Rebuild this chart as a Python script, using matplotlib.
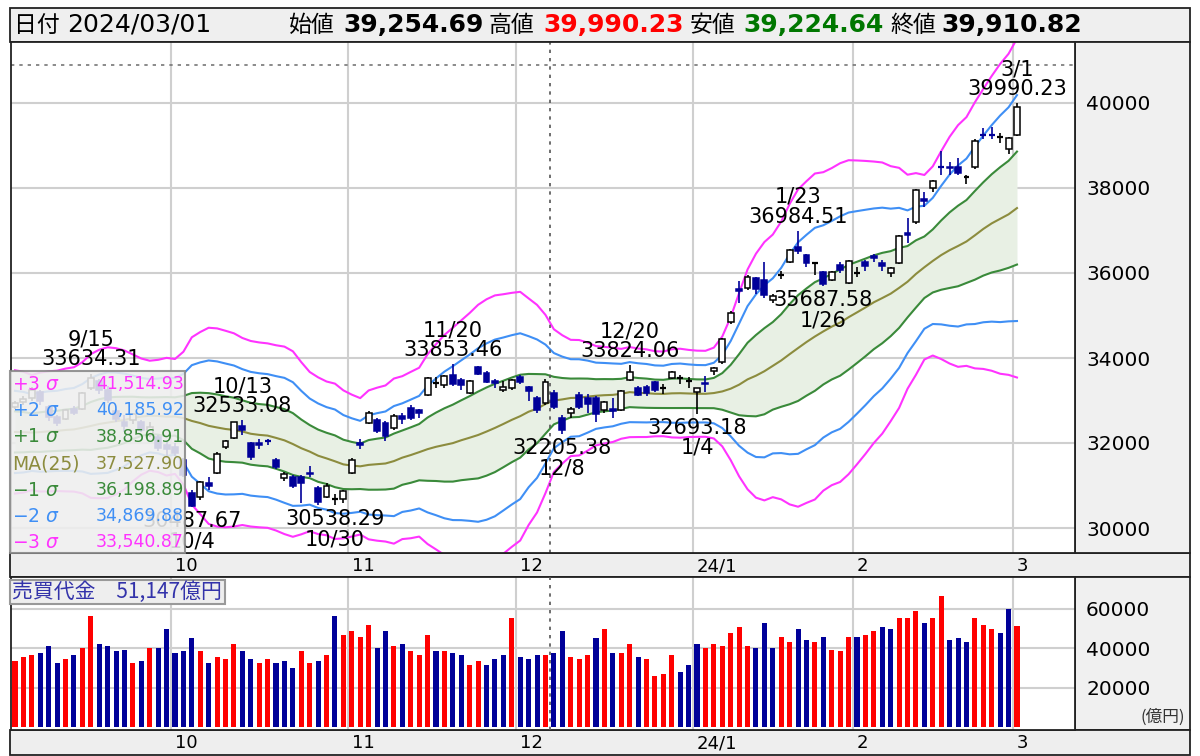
import numpy as np
import pandas as pd
import matplotlib
matplotlib.use('Agg')
import matplotlib.pyplot as plt
from matplotlib.patches import Rectangle
import matplotlib.transforms as mtransforms

plt.rcParams['font.family'] = ['DejaVu Sans', 'Noto Sans CJK JP']

# ---------------- data ----------------
sep_days = [4, 5, 6, 7, 8, 11, 12, 13, 14, 15, 19, 20, 21, 22, 25, 26, 27, 28, 29]
oct_days = [2, 3, 4, 5, 6, 10, 11, 12, 13, 16, 17, 18, 19, 20, 23, 24, 25, 26, 27, 30, 31]
nov_days = [1, 2, 6, 7, 8, 9, 10, 13, 14, 15, 16, 17, 20, 21, 22, 24, 27, 28, 29, 30]
dec_days = [1, 4, 5, 6, 7, 8, 11, 12, 13, 14, 15, 18, 19, 20, 21, 22, 25, 26, 27, 28, 29]
jan_days = [4, 5, 9, 10, 11, 12, 15, 16, 17, 18, 19, 22, 23, 24, 25, 26, 29, 30, 31]
feb_days = [1, 2, 5, 6, 7, 8, 9, 13, 14, 15, 16, 19, 20, 21, 22, 26, 27, 28, 29]
mar_days = [1]
month_labels = ["10", "11", "12", "24/1", "2", "3"]

# closes before the visible range (needed for the 25-day bands)
prior_close = [33172, 33476, 32707, 32159, 32193, 32254, 32377, 32204, 32474, 32059,
               32239, 31766, 31627, 31451, 31566, 31856, 32011, 32288, 31625, 32170,
               32227, 32333, 32619, 32711]

open_ = [32850, 32960, 33050, 33200, 32850, 32600, 32560, 32800, 32800, 33300,
         33450, 33250, 32750, 32500, 32550, 32500, 32200, 32150, 31950,
         31900, 31600, 30820, 30730, 31050, 31300, 31900, 32120, 32400, 32000,
         32000, 32050, 31600, 31180, 31200, 31200, 31300, 30940, 30730, 30690, 30690,
         31300, 32000, 32470, 32540, 32470, 32350, 32640, 32820, 32770, 33130,
         33420, 33365, 33600, 33480, 33180, 33780, 33650, 33450, 33250, 33300,
         33550, 33320, 33060, 32940, 33180, 32590, 32710, 33130, 33060, 33060,
         32780, 32800, 32780, 33480, 33300, 33310, 33430, 33300, 33530, 33530, 33460,
         33190, 33400, 33700, 33910, 34850, 35620, 35650, 35880, 35835, 35370,
         35950, 36260, 36610, 36420, 36230, 36020, 35840, 36190, 35770,
         36000, 36260, 36400, 36235, 36000, 36240, 36950, 37200, 37750, 38000,
         38500, 38500, 38494, 38250, 38500, 39250, 39250, 39200, 38920,
         39254.69]
high = [32990, 33100, 33322, 33250, 32900, 32660, 32800, 32860, 33200, 33634.31,
        33500, 33330, 32800, 32650, 32700, 32550, 32500, 32200, 32050,
        32000, 31650, 30900, 31100, 31200, 31780, 32070, 32500, 32533.08, 32020,
        32100, 32100, 31650, 31320, 31250, 31250, 31460, 30990, 31050, 30800, 30900,
        31650, 32100, 32760, 32580, 32520, 32680, 32700, 32900, 32800, 33550,
        33550, 33600, 33853.46, 33520, 33480, 33820, 33700, 33500, 33450, 33500,
        33600, 33350, 33100, 33500, 33250, 32650, 32850, 33200, 33150, 33100,
        33000, 33050, 33250, 33824.06, 33350, 33360, 33450, 33380, 33700, 33600, 33550,
        33300, 33570, 33800, 34480, 35100, 35800, 35950, 35900, 36259, 35500,
        36050, 36560, 36984.51, 36450, 36260, 36050, 36050, 36250, 36300,
        36150, 36300, 36450, 36300, 36150, 36900, 37287, 37980, 37900, 38180,
        38865, 38600, 38700, 38300, 39156, 39400, 39426, 39300, 39200,
        39990.23]
low = [32800, 32900, 32990, 32900, 32510, 32400, 32540, 32650, 32780, 33250,
       33150, 32950, 32500, 32250, 32450, 32250, 32150, 31820, 31700,
       31700, 31200, 30487.67, 30650, 30900, 31280, 31850, 32100, 32200, 31600,
       31850, 31950, 31400, 31100, 30950, 30590, 31200, 30550, 30700, 30538.29, 30600,
       31280, 31850, 32450, 32240, 32050, 32300, 32450, 32550, 32600, 33100,
       33300, 33300, 33350, 33250, 33150, 33600, 33420, 33300, 33200, 33250,
       33400, 33000, 32700, 32900, 32800, 32205.38, 32600, 32800, 32700, 32500,
       32700, 32600, 32750, 33450, 33100, 33100, 33200, 33150, 33500, 33400, 33300,
       32693.18, 33200, 33600, 33850, 34800, 35300, 35600, 35500, 35400, 35300,
       35850, 36240, 36450, 36150, 35950, 35687.58, 35800, 36000, 35750,
       35900, 36050, 36250, 36050, 35900, 36200, 36700, 37150, 37550, 37900,
       38300, 38300, 38300, 38100, 38450, 39150, 39150, 39050, 38800,
       39224.64]
close = [32939, 33036, 33241, 32991, 32606, 32467, 32776, 32706, 33168, 33533,
         33242, 33023, 32571, 32402, 32678, 32315, 32372, 31872, 31857,
         31759, 31237, 30526, 31075, 30994, 31746, 32040, 32494, 32315, 31659,
         31951, 32042, 31431, 31259, 30999, 31062, 31269, 30601, 30991, 30697, 30859,
         31601, 31950, 32708, 32272, 32166, 32646, 32568, 32585, 32695, 33519,
         33424, 33585, 33388, 33354, 33452, 33625, 33447, 33408, 33321, 33486,
         33431, 33231, 32776, 33445, 32858, 32307, 32791, 32843, 32926, 32686,
         32970, 32758, 33219, 33675, 33141, 33169, 33254, 33305, 33681, 33539, 33464,
         33288, 33377, 33763, 34441, 35049, 35577, 35901, 35619, 35477, 35466,
         35963, 36546, 36517, 36226, 36236.47, 35751.20, 36026.94, 36065.86, 36286.71,
         36011.46, 36158.02, 36354.16, 36160.66, 36119.92, 36863.28, 36897.42, 37963.97,
         37703.32, 38157.94, 38486.46, 38470.38, 38363.61, 38262.16, 39098.55,
         39233.71, 39239.52, 39208.77, 39166.19,
         39910.82]
# trading value (100 million yen)
turnover = [33700, 35400, 36600, 37500, 41000, 32700, 34600, 36600, 40200, 56400,
            42200, 41200, 38500, 39300, 32700, 33700, 40200, 40200, 49800,
            37500, 38500, 45100, 38500, 32700, 35400, 34600, 42200, 38500, 34600,
            32700, 34600, 32700, 33700, 29800, 38500, 32700, 33700, 36600, 56400, 46900,
            48800, 45900, 51700, 40300, 48800, 41200, 42200, 38500, 36600, 46900,
            38500, 38500, 37500, 36600, 31700, 33700, 31700, 34600, 36600, 55400,
            35600, 34600, 36600, 36600, 37500, 48800, 35600, 34600, 36600, 45100,
            49800, 37500, 37500, 42200, 35600, 34600, 26100, 26900, 36600, 28000, 31700,
            42200, 40200, 42200, 41200, 48000, 50700, 41200, 40200, 52700, 40200,
            45900, 43100, 49800, 44100, 43100, 45900, 39300, 38500, 45900,
            45900, 46900, 48800, 50700, 49800, 55400, 55400, 59100, 52700, 55400,
            66800, 44100, 45100, 43100, 55400, 51700, 49800, 48000, 60000,
            51147]
high_marks = ["9/15", "10/13", "11/20", "12/20", "1/23", "3/1"]
low_marks = ["10/4", "10/30", "12/8", "1/4", "1/26"]
cursor_price = 40890
cursor_day = "12/6"

band_labels = ["+3", "+2", "+1", "MA(25)", "\u22121", "\u22122", "\u22123"]

# ---------------- derived ----------------
labels = ([f"9/{d}" for d in sep_days] + [f"10/{d}" for d in oct_days] +
          [f"11/{d}" for d in nov_days] + [f"12/{d}" for d in dec_days] +
          [f"1/{d}" for d in jan_days] + [f"2/{d}" for d in feb_days] +
          [f"3/{d}" for d in mar_days])
n = len(labels)
x = np.arange(n)
counts = [len(sep_days), len(oct_days), len(nov_days), len(dec_days), len(jan_days), len(feb_days)]
month_start = np.cumsum(counts)
month_bounds = month_start - 0.5

allc = pd.Series(prior_close + close, dtype=float)
ma = allc.rolling(25).mean().values[len(prior_close):]
sd = allc.rolling(25).std(ddof=0).values[len(prior_close):]
prev_close = np.array(allc.values[len(prior_close) - 1:-1])

O = np.array(open_, float); H = np.array(high, float)
L = np.array(low, float); C = np.array(close, float)

NAVY = '#000099'
RED = '#ff0000'
C3 = '#ff33ff'; C2 = '#3f8ff5'; C1 = '#3a8a3a'; CMA = '#8c8c3e'
band_cols = [C3, C2, C1, CMA, C1, C2, C3]

# ---------------- figure ----------------
W, Hh = 1200, 756
fig = plt.figure(figsize=(12, 7.56), dpi=100)

def rect(x0, y0, x1, y1):
    return [x0 / W, 1 - y1 / Hh, (x1 - x0) / W, (y1 - y0) / Hh]

bg = fig.add_axes([0, 0, 1, 1], zorder=0)
bg.set_xlim(0, W); bg.set_ylim(Hh, 0); bg.axis('off')
for (a, b, c, d, fc) in [(10, 8, 1190, 42, '#efefef'), (10, 553, 1190, 577, '#eeeeee'),
                         (1075, 42, 1190, 553, '#f0f0f0'), (1075, 577, 1190, 730, '#f0f0f0'),
                         (10, 730, 1190, 755, '#eeeeee')]:
    bg.add_patch(Rectangle((a, b), c - a, d - b, facecolor=fc, edgecolor='#222222', lw=1.3))

# header
hy = 25
bg.text(14, hy, "日付", fontsize=16.5, va='center', ha='left', family=['Noto Sans CJK JP'])
bg.text(67, hy, "2024/03/01", fontsize=18, va='center', ha='left')
items = [(289, "始値", 343, f"{O[-1]:,.2f}", 'black'),
         (489, "高値", 543, f"{H[-1]:,.2f}", '#ff0000'),
         (690, "安値", 743, f"{L[-1]:,.2f}", '#007700'),
         (890, "終値", 941, f"{C[-1]:,.2f}", 'black')]
for (xl, lab, xv, val, col) in items:
    bg.text(xl, hy, lab, fontsize=16.5, va='center', ha='left', family=['Noto Sans CJK JP'])
    bg.text(xv, hy, val, fontsize=18, va='center', ha='left', fontweight='bold', color=col)

# ---------------- price panel ----------------
ax = fig.add_axes(rect(11, 42, 1075, 553), zorder=1)
ax.set_facecolor('white')
xl0 = (11 - 15) / 8.42
xl1 = (1075 - 15) / 8.42
ax.set_xlim(xl0, xl1)
ax.set_ylim(40000 - (553 - 103) / 0.0425, 40000 + (103 - 42) / 0.0425)
ax.set_yticks(np.arange(30000, 40001, 2000))
ax.yaxis.tick_right()
ax.tick_params(axis='y', length=0, pad=8, labelsize=14.5)
ax.set_xticks(month_bounds)
ax.set_xticklabels(month_labels)
ax.tick_params(axis='x', length=0, pad=3, labelsize=13)
off = mtransforms.ScaledTranslation(4 / 100, 0, fig.dpi_scale_trans)
for t in ax.get_xticklabels():
    t.set_horizontalalignment('left')
    t.set_transform(t.get_transform() + off)
ax.grid(True, color='#cfcfcf', lw=1.5, zorder=0)
ax.set_axisbelow(True)
for s in ax.spines.values():
    s.set_color('#222222'); s.set_linewidth(1.3)

ax.fill_between(x, ma - sd, ma + sd, color='#e8f0e4', zorder=1, lw=0)
for k, col in zip([3, 2, 1, 0, -1, -2, -3], band_cols):
    ax.plot(x, ma + k * sd, color=col, lw=1.5, zorder=2)

# dashed cursor lines
ci = labels.index(cursor_day) + 0.5
ax.axvline(ci, color='#555555', lw=1.2, ls=(0, (2, 3)), zorder=2)
ax.axhline(cursor_price, color='#777777', lw=1.2, ls=(0, (2, 3)), zorder=2)

bw = 0.7
for i in range(n):
    up = C[i] >= O[i]
    col = 'black' if up else NAVY
    ax.vlines(x[i], L[i], H[i], color=col, lw=1.2, zorder=3)
    lo, hi = min(O[i], C[i]), max(O[i], C[i])
    if hi - lo < 20:
        ax.hlines((lo + hi) / 2, x[i] - bw / 2, x[i] + bw / 2, color=col, lw=1.6, zorder=4)
    else:
        ax.add_patch(Rectangle((x[i] - bw / 2, lo), bw, hi - lo,
                               facecolor='white' if up else NAVY,
                               edgecolor=col, lw=1.1, zorder=4))

for lab in high_marks:
    i = labels.index(lab)
    ax.annotate(f"{lab}\n{H[i]:.2f}", xy=(x[i], H[i]), xytext=(0, 3),
                textcoords='offset points', ha='center', va='bottom',
                fontsize=15, linespacing=1.0, zorder=5)
for lab in low_marks:
    i = labels.index(lab)
    ax.annotate(f"{L[i]:.2f}\n{lab}", xy=(x[i], L[i]), xytext=(0, -3),
                textcoords='offset points', ha='center', va='top',
                fontsize=15, linespacing=1.0, zorder=5)

# ---------------- volume panel ----------------
av = fig.add_axes(rect(11, 577, 1075, 730), zorder=1)
av.set_facecolor('white')
av.set_xlim(xl0, xl1)
av.set_ylim(-3 / (118 / 60000), (727 - 577) / (118 / 60000))
cols = [RED if C[i] > prev_close[i] else NAVY for i in range(n)]
av.bar(x, turnover, width=0.6, color=cols, zorder=2, edgecolor='none')
av.set_yticks([20000, 40000, 60000])
av.yaxis.tick_right()
av.tick_params(axis='y', length=0, pad=8, labelsize=14.5)
av.set_xticks(month_bounds)
av.set_xticklabels(month_labels)
av.tick_params(axis='x', length=0, pad=3, labelsize=13)
for t in av.get_xticklabels():
    t.set_horizontalalignment('left')
    t.set_transform(t.get_transform() + off)
av.grid(True, color='#cfcfcf', lw=1.5, zorder=0)
av.set_axisbelow(True)
av.axvline(ci, color='#555555', lw=1.2, ls=(0, (2, 3)), zorder=3)
for s in av.spines.values():
    s.set_color('#222222'); s.set_linewidth(1.3)
av.text(1.0 + 110 / 1064, 0.03, "(億円)", transform=av.transAxes, fontsize=12,
        ha='right', va='bottom', family=['Noto Sans CJK JP', 'DejaVu Sans'], color='#333333')

# ---------------- overlays ----------------
ov = fig.add_axes([0, 0, 1, 1], zorder=6)
ov.set_xlim(0, W); ov.set_ylim(Hh, 0); ov.axis('off')
ov.patch.set_alpha(0)
ov.add_patch(Rectangle((10, 371), 175, 182, facecolor='#eeeeee', alpha=0.88,
                       edgecolor='#888888', lw=1.5))
vals = [ma[-1] + k * sd[-1] for k in [3, 2, 1, 0, -1, -2, -3]]
rows_y = [384, 410, 437, 464, 490, 516, 542]
for lab, v, col, yy in zip(band_labels, vals, band_cols, rows_y):
    txt = lab if lab.startswith("MA") else lab + r" $\sigma$"
    ov.text(12, yy, txt, color=col, fontsize=13.5, ha='left', va='center')
    ov.text(184, yy, f"{v:,.2f}", color=col, fontsize=12.5, ha='right', va='center')

ov.add_patch(Rectangle((10, 580), 215, 24, facecolor='#eeeeee', edgecolor='#999999', lw=1.5))
ov.text(12, 592, f"売買代金　{turnover[-1]:,}億円", color='#3333aa', fontsize=15,
        ha='left', va='center', family=['Noto Sans CJK JP'])

fig.savefig('out.png', dpi=100)
